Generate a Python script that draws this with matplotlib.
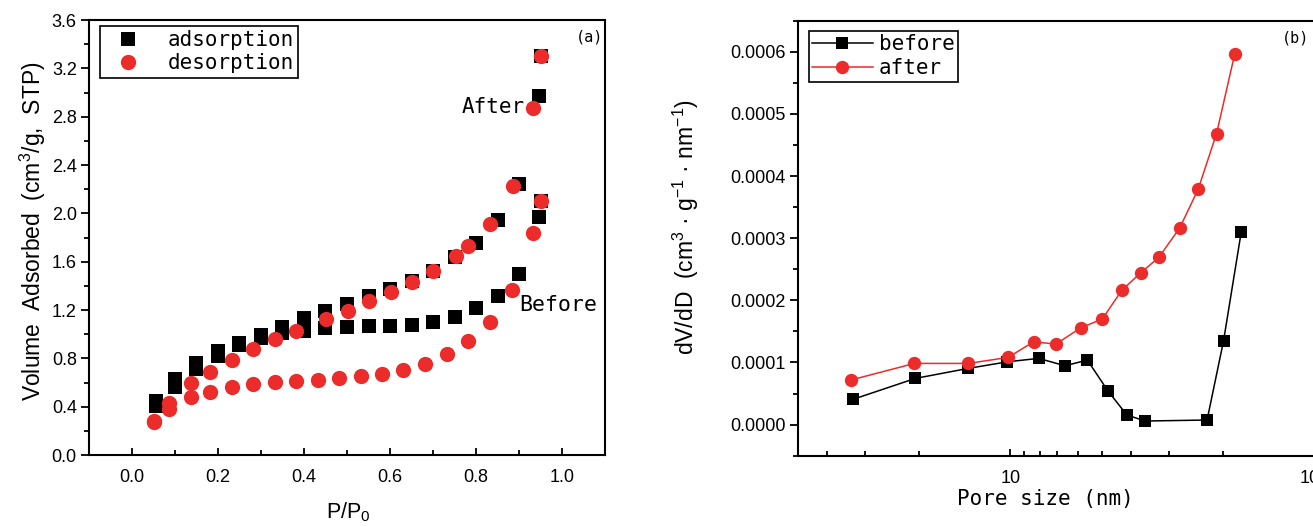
import matplotlib
matplotlib.use('Agg')
import matplotlib.pyplot as plt
from matplotlib.lines import Line2D
from matplotlib.ticker import FixedLocator, MultipleLocator, FuncFormatter, NullFormatter

RED = '#ec2b2b'
SANS = 'Liberation Sans'
MONO = 'DejaVu Sans Mono'

# (a) N2 isotherms, P/P0 vs volume adsorbed
after_ads_p = [0.056, 0.10, 0.15, 0.20, 0.25, 0.30, 0.35, 0.40, 0.45, 0.50, 0.55,
               0.60, 0.65, 0.70, 0.75, 0.80, 0.85, 0.90, 0.945, 0.95]
after_ads_v = [0.444, 0.63, 0.762, 0.861, 0.927, 0.993, 1.06, 1.134, 1.188, 1.251, 1.312,
               1.372, 1.442, 1.525, 1.635, 1.756, 1.944, 2.239, 2.969, 3.299]
before_ads_p = after_ads_p
before_ads_v = [0.403, 0.564, 0.708, 0.82, 0.911, 0.969, 1.01, 1.03, 1.049, 1.062, 1.064,
                1.068, 1.076, 1.103, 1.144, 1.213, 1.315, 1.497, 1.966, 2.103]
after_des_p = [0.95, 0.932, 0.886, 0.833, 0.782, 0.752, 0.70, 0.652, 0.601, 0.552, 0.502,
               0.452, 0.382, 0.332, 0.281, 0.232, 0.182, 0.137, 0.086, 0.052]
after_des_v = [3.299, 2.875, 2.225, 1.911, 1.729, 1.646, 1.525, 1.429, 1.351, 1.277, 1.194,
               1.126, 1.026, 0.958, 0.875, 0.787, 0.69, 0.594, 0.434, 0.285]
before_des_p = [0.95, 0.932, 0.884, 0.832, 0.782, 0.732, 0.68, 0.63, 0.582, 0.532, 0.481,
                0.432, 0.382, 0.332, 0.281, 0.232, 0.182, 0.137, 0.086, 0.052]
before_des_v = [2.103, 1.839, 1.369, 1.101, 0.944, 0.834, 0.757, 0.702, 0.669, 0.653, 0.634,
                0.621, 0.616, 0.607, 0.588, 0.566, 0.525, 0.479, 0.379, 0.277]

# (b) pore size distribution
before_d = [3.04, 4.88, 7.28, 9.79, 12.41, 15.14, 17.93, 20.98, 24.2, 27.8, 44.4, 50.3, 57.5]
before_dv = [0.0000407, 0.0000744, 0.0000905, 0.0001011, 0.0001066, 0.0000947, 0.0001039,
             0.000054, 0.0000154, 0.0000058, 0.0000074, 0.0001349, 0.00031]
after_d = [2.99, 4.84, 7.28, 9.85, 11.94, 14.14, 17.06, 20.07, 23.3, 26.85, 30.8, 36.1,
           41.5, 47.7, 54.7]
after_dv = [0.0000717, 0.0000985, 0.0000985, 0.0001082, 0.0001333, 0.0001296, 0.0001558,
            0.0001698, 0.0002164, 0.0002442, 0.000269, 0.0003166, 0.0003788, 0.0004683,
            0.0005958]

plt.rcParams['font.family'] = SANS
plt.rcParams['axes.linewidth'] = 1.5

fig = plt.figure(figsize=(13.13, 5.27), dpi=100)
ax1 = fig.add_axes([0.0675, 0.1366, 0.3936, 0.8254])
ax2 = fig.add_axes([0.6075, 0.1353, 0.3935, 0.8254])

# ---- panel (a)
sq = dict(marker='s', ms=9.6, color='black', ls='none', mew=0)
ci = dict(marker='o', ms=11, color=RED, ls='none', mew=0)
ax1.plot(after_ads_p, after_ads_v, **sq)
ax1.plot(before_ads_p, before_ads_v, **sq)
ax1.plot(after_des_p, after_des_v, **ci)
ax1.plot(before_des_p, before_des_v, **ci)

ax1.set_xlim(-0.1, 1.1)
ax1.set_ylim(0, 3.6)
ax1.xaxis.set_major_locator(FixedLocator([0, 0.2, 0.4, 0.6, 0.8, 1.0]))
ax1.xaxis.set_minor_locator(FixedLocator([0.1, 0.3, 0.5, 0.7, 0.9]))
ax1.yaxis.set_major_locator(MultipleLocator(0.4))
ax1.yaxis.set_minor_locator(MultipleLocator(0.2))
ax1.xaxis.set_major_formatter(FuncFormatter(lambda v, p: f'{v:.1f}'))
ax1.yaxis.set_major_formatter(FuncFormatter(lambda v, p: f'{v:.1f}'))

ax1.set_xlabel('P/P$\\mathregular{_0}$', fontsize=15.5, va='center')
ax1.xaxis.set_label_coords(0.502, -0.131)
ax1.set_ylabel('Volume  Adsorbed  (cm$\\mathregular{^3}$/g,  STP)', fontsize=16.5, va='center')
ax1.yaxis.set_label_coords(-0.108, 0.515)

leg_h1 = [Line2D([], [], **sq), Line2D([], [], **ci)]
ax1.legend(leg_h1, ['adsorption', 'desorption'], loc='upper left',
           bbox_to_anchor=(0.0213, 0.986), borderaxespad=0, numpoints=1,
           prop={'family': MONO, 'size': 15}, frameon=True, fancybox=False,
           edgecolor='black', framealpha=1, handlelength=2.3, handletextpad=0.75,
           borderpad=0.2, labelspacing=0.15).get_frame().set_linewidth(1.2)

ax1.text(0.767, 2.88, 'After', family=MONO, fontsize=15, ha='left', va='center')
ax1.text(0.899, 1.241, 'Before', family=MONO, fontsize=15.5, ha='left', va='center')
ax1.text(0.995, 0.96, '(a)', family=MONO, fontsize=11, ha='right', va='center',
         transform=ax1.transAxes)

# ---- panel (b)
ax2.plot(before_d, before_dv, color='black', lw=1.1, marker='s', ms=8.6, mew=0)
ax2.plot(after_d, after_dv, color=RED, lw=1.1, marker='o', ms=9.6, mew=0)
ax2.set_xscale('log')
ax2.set_xlim(2, 100)
ax2.set_ylim(-0.00005, 0.00065)
ax2.xaxis.set_major_locator(FixedLocator([10, 100]))
ax2.xaxis.set_minor_locator(FixedLocator([10 / m for m in range(2, 10)] +
                                         [100 / m for m in range(2, 10)]))
ax2.xaxis.set_major_formatter(FuncFormatter(lambda v, p: f'{v:g}'))
ax2.xaxis.set_minor_formatter(NullFormatter())
ax2.yaxis.set_major_locator(MultipleLocator(0.0001))
ax2.yaxis.set_minor_locator(MultipleLocator(0.00005))
ax2.yaxis.set_major_formatter(FuncFormatter(lambda v, p: f'{v:.4f}'))

ax2.set_xlabel('Pore size (nm)', family=MONO, fontsize=15, va='center')
ax2.xaxis.set_label_coords(0.479, -0.0995)
ax2.set_ylabel('dV/dD  (cm$\\mathregular{^3}$ · g$\\mathregular{^{-1}}$ · nm$\\mathregular{^{-1}}$)',
               fontsize=16.5, va='center')
ax2.yaxis.set_label_coords(-0.216, 0.525)

leg2 = ax2.legend(['before', 'after'], loc='upper left', bbox_to_anchor=(0.0213, 0.977),
                  borderaxespad=0, numpoints=1, prop={'family': MONO, 'size': 15},
                  frameon=True, fancybox=False, edgecolor='black', framealpha=1,
                  handlelength=2.9, handletextpad=0.3, borderpad=0.17, labelspacing=0.19)
leg2.get_frame().set_linewidth(1.2)
ax2.text(0.991, 0.96, '(b)', family=MONO, fontsize=11, ha='right', va='center',
         transform=ax2.transAxes)

for ax in (ax1, ax2):
    ax.tick_params(axis='x', which='both', direction='in', labelsize=13, pad=10,
                   top=False, width=1.3)
    ax.tick_params(axis='x', which='major', length=5)
    ax.tick_params(axis='x', which='minor', length=3.5)
    ax.tick_params(axis='y', which='both', direction='out', labelsize=13, pad=3,
                   right=False, width=1.3)
    ax.tick_params(axis='y', which='major', length=5.5)
    ax.tick_params(axis='y', which='minor', length=3.5)

fig.savefig('out.png', dpi=100)
